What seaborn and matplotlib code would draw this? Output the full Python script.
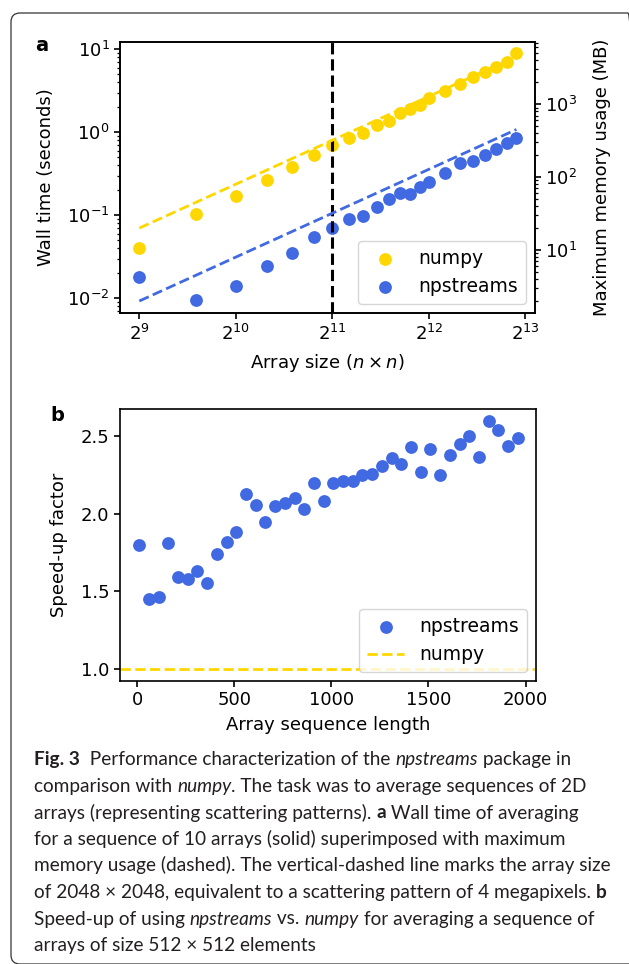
import numpy as np
import pandas as pd
import matplotlib
matplotlib.use("Agg")
import matplotlib.pyplot as plt
import seaborn as sns
from matplotlib.patches import FancyBboxPatch
from matplotlib.transforms import IdentityTransform

# ---------------- data ----------------
array_sizes = [512, 768, 1024, 1280, 1536, 1792, 2048, 2304, 2560, 2816, 3072,
               3328, 3584, 3840, 4096, 4608, 5120, 5632, 6144, 6656, 7168, 7680]
numpy_time = [0.040, 0.104, 0.171, 0.266, 0.379, 0.533, 0.703, 0.847, 0.973, 1.22, 1.37,
              1.69, 1.89, 2.13, 2.57, 3.17, 3.82, 4.60, 5.37, 6.17, 7.09, 8.95]
npstreams_time = [0.0179, 0.00955, 0.0142, 0.0247, 0.0354, 0.0552, 0.0697, 0.0902, 0.0989,
                  0.125, 0.157, 0.184, 0.179, 0.221, 0.250, 0.321, 0.424, 0.455, 0.533,
                  0.624, 0.736, 0.847]
numpy_memory = [20, 45, 80, 125, 180, 245, 320, 405, 500, 605, 720,
                845, 980, 1125, 1280, 1620, 2000, 2420, 2880, 3380, 3920, 4500]
npstreams_memory = [2, 4.5, 8, 12.5, 18, 24.5, 32, 40.5, 50, 60.5, 72,
                    84.5, 98, 112.5, 128, 162, 200, 242, 288, 338, 392, 450]
marked_size = 2048

seq_lengths = [10, 60, 110, 160, 210, 260, 310, 360, 410, 460,
               510, 560, 610, 660, 710, 760, 810, 860, 910, 960,
               1010, 1060, 1110, 1160, 1210, 1260, 1310, 1360, 1410, 1460,
               1510, 1560, 1610, 1660, 1710, 1760, 1810, 1860, 1910, 1960]
speedup = [1.80, 1.45, 1.46, 1.81, 1.59, 1.58, 1.63, 1.55, 1.74, 1.82,
           1.88, 2.13, 2.06, 1.95, 2.05, 2.07, 2.10, 2.03, 2.20, 2.08,
           2.20, 2.21, 2.21, 2.25, 2.26, 2.31, 2.36, 2.32, 2.43, 2.27,
           2.42, 2.25, 2.38, 2.45, 2.50, 2.37, 2.60, 2.54, 2.44, 2.49]
numpy_reference = 1.0

GOLD = "#FFD700"
BLUE = "#4169E1"

# ---------------- style ----------------
plt.rcParams.update({
    "font.family": ["DejaVu Sans"],
    "font.size": 13,
    "axes.linewidth": 1.2,
    "xtick.major.width": 1.2,
    "ytick.major.width": 1.2,
    "xtick.minor.width": 0.9,
    "ytick.minor.width": 0.9,
    "xtick.major.size": 4,
    "ytick.major.size": 4,
    "legend.fontsize": 13.5,
})

W, H = 629, 964
fig = plt.figure(figsize=(W / 100, H / 100), dpi=100)

def px_axes(left, top, right, bottom):
    return fig.add_axes([left / W, 1 - bottom / H, (right - left) / W, (bottom - top) / H])

# ---------------- panel a ----------------
ax = px_axes(120, 42, 535, 313)
ax.set_xscale("log", base=2)
ax.set_yscale("log")
df_t = pd.DataFrame({"size": array_sizes, "numpy": numpy_time, "npstreams": npstreams_time})
sns.scatterplot(data=df_t, x="size", y="numpy", color=GOLD, s=85, linewidth=0,
                label="numpy", ax=ax, zorder=3)
sns.scatterplot(data=df_t, x="size", y="npstreams", color=BLUE, s=85, linewidth=0,
                label="npstreams", ax=ax, zorder=3)
ax.axvline(marked_size, color="black", ls="--", lw=2.2, zorder=4)
ax.set_xlim(2 ** 8.80, 2 ** 13.10)
ax.set_ylim(0.00665, 12.25)
ax.set_xticks([2 ** 9, 2 ** 10, 2 ** 11, 2 ** 12, 2 ** 13])
ax.set_xlabel(r"Array size ($n \times n$)", labelpad=6)
ax.set_ylabel("Wall time (seconds)", labelpad=9)
ax.legend(loc="lower right")

ax2 = ax.twinx()
ax2.set_yscale("log")
df_m = pd.DataFrame({"size": array_sizes, "numpy": numpy_memory, "npstreams": npstreams_memory})
sns.lineplot(data=df_m, x="size", y="numpy", color=GOLD, ls="--", lw=2, ax=ax2, legend=False)
sns.lineplot(data=df_m, x="size", y="npstreams", color=BLUE, ls="--", lw=2, ax=ax2, legend=False)
ax2.set_ylim(1.37, 7130)
ax2.set_xlim(2 ** 8.80, 2 ** 13.10)
ax2.set_xlabel("")
ax2.set_ylabel("Maximum memory usage (MB)", labelpad=11)

# ---------------- panel b ----------------
bx = px_axes(120, 409, 536, 681)
df_s = pd.DataFrame({"length": seq_lengths, "speedup": speedup})
sns.scatterplot(data=df_s, x="length", y="speedup", color=BLUE, s=85, linewidth=0,
                label="npstreams", ax=bx, zorder=3)
bx.axhline(numpy_reference, color=GOLD, ls="--", lw=2, label="numpy")
bx.set_xlim(-89, 2054)
bx.set_ylim(0.92, 2.677)
bx.set_xticks([0, 500, 1000, 1500, 2000])
bx.set_yticks([1.0, 1.5, 2.0, 2.5])
bx.set_xlabel("Array sequence length", labelpad=5)
bx.set_ylabel("Speed-up factor", labelpad=9)
bx.legend(loc="lower right")

# panel letters
fig.text(35 / W, 1 - 51 / H, "a", fontsize=14, fontweight="bold")
fig.text(50 / W, 1 - 421 / H, "b", fontsize=14, fontweight="bold")

# ---------------- frame ----------------
frame = FancyBboxPatch((11, 0), 626, 951, boxstyle="round,pad=0,rounding_size=9",
                       transform=IdentityTransform(), facecolor="none",
                       edgecolor="#333333", lw=0.9)
fig.patches.append(frame)

# ---------------- caption ----------------
cap_font = ["Lato", "DejaVu Sans"]
cap_color = "#231F20"
renderer = fig.canvas.get_renderer()

def seg_width(txt, weight, style, size):
    t = fig.text(0, 0, "x" + txt + "x", fontsize=size, fontweight=weight,
                 fontstyle=style, family=cap_font)
    t2 = fig.text(0, 0, "xx", fontsize=size, fontweight=weight,
                  fontstyle=style, family=cap_font)
    w = t.get_window_extent(renderer).width - t2.get_window_extent(renderer).width
    t.remove(); t2.remove()
    return w

N, B, I = ("normal", "normal"), ("bold", "normal"), ("normal", "italic")
caption = [
    [("Fig. 3", *B), ("  Performance characterization of the ", *N), ("npstreams", *I), (" package in", *N)],
    [("comparison with ", *N), ("numpy", *I), (". The task was to average sequences of 2D", *N)],
    [("arrays (representing scattering patterns). ", *N), ("a", *B), (" Wall time of averaging", *N)],
    [("for a sequence of 10 arrays (solid) superimposed with maximum", *N)],
    [("memory usage (dashed). The vertical-dashed line marks the array size", *N)],
    [("of 2048 \u00d7 2048, equivalent to a scattering pattern of 4 megapixels. ", *N), ("b", *B)],
    [("Speed-up of using ", *N), ("npstreams", *I), (" vs. ", *N), ("numpy", *I), (" for averaging a sequence of", *N)],
    [("arrays of size 512 \u00d7 512 elements", *N)],
]
# fit font size so the widest line spans the measured width
ref_w = sum(seg_width(t, w, s, 10) for t, w, s in caption[4])
cap_size = 10 * 578 / ref_w

baselines = [765, 792, 818.5, 845, 871.5, 898, 924.5, 951]
for segs, yb in zip(caption, baselines):
    x = 34
    for txt, w, s in segs:
        fig.text(x / W, 1 - yb / H, txt, fontsize=cap_size, fontweight=w, fontstyle=s,
                 family=cap_font, color=cap_color, va="baseline", ha="left")
        x += seg_width(txt, w, s, cap_size)

fig.savefig("out.png", dpi=100)
